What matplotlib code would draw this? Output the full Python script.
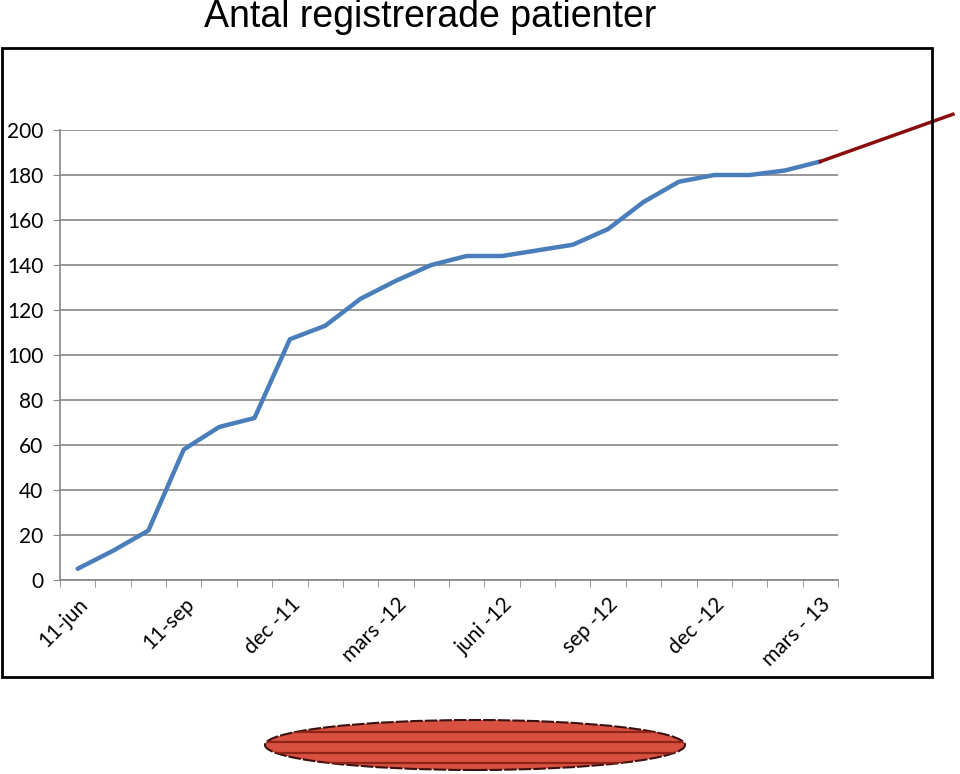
import numpy as np
import matplotlib.pyplot as plt
import matplotlib.patches as mpatches
from matplotlib.lines import Line2D

plt.rcParams['font.family'] = ['Lato', 'DejaVu Sans']

# Monthly registered patients, June 2011 - March 2013
months = ['11-jun', 'jul', 'aug', '11-sep', 'okt', 'nov', 'dec -11', 'jan', 'feb',
          'mars -12', 'apr', 'maj', 'juni -12', 'jul', 'aug', 'sep -12', 'okt', 'nov',
          'dec -12', 'jan', 'feb', 'mars - 13']
patients = [5, 13, 22, 58, 68, 72, 107, 113, 125, 133, 140, 144, 144, 146.5, 149,
            156, 168, 177, 180, 180, 182, 186]
# extrapolated trend beyond the chart (x in category units, y in patients)
trend_x = [21, 24.75]
trend_y = [186, 207]
yticks = [0, 20, 40, 60, 80, 100, 120, 140, 160, 180, 200]

fig = plt.figure(figsize=(9.6, 7.74), dpi=100)
ax = fig.add_axes([60 / 960, 1 - 580 / 774, 778 / 960, 450 / 774])

x = np.arange(len(patients))
ax.plot(x, patients, color='#4a7ebb', lw=3.2, solid_capstyle='round', zorder=3)
ax.plot(trend_x, trend_y, color='#8b0e0e', lw=2.5, clip_on=False, zorder=3)

ax.set_xlim(-0.5, len(patients) - 0.5)
ax.set_ylim(0, 200)
ax.set_yticks(yticks)
ax.tick_params(axis='y', length=5, color='#868686', labelsize=15, pad=7)
ax.grid(axis='y', color='#868686', lw=1.2)
ax.set_axisbelow(True)

# category boundary ticks and labels every third month
ax.set_xticks(np.arange(-0.5, len(patients)), minor=True)
ax.tick_params(axis='x', which='minor', length=5, color='#868686')
lab_idx = list(range(0, len(patients), 3))
ax.set_xticks(lab_idx)
ax.set_xticklabels([months[i] for i in lab_idx], rotation=45, ha='right',
                   rotation_mode='anchor', fontsize=15)
ax.tick_params(axis='x', which='major', length=0, pad=10)

for s in ['top', 'right']:
    ax.spines[s].set_visible(False)
for s in ['left', 'bottom']:
    ax.spines[s].set_color('#868686')
    ax.spines[s].set_linewidth(1.2)

# outer chart border
fig.add_artist(mpatches.Rectangle((2 / 960, 1 - 677 / 774), 930 / 960, 629 / 774,
                                  transform=fig.transFigure, fill=False,
                                  edgecolor='black', lw=2))

fig.text(430 / 960, 1 - 17 / 774, 'Antal registrerade patienter', ha='center',
         va='center', fontsize=27, family=['Liberation Sans', 'DejaVu Sans'])

# red striped ellipse below the chart
cx, cy, w, h = 475 / 960, 1 - 745 / 774, 420 / 960, 50 / 774
ell = mpatches.Ellipse((cx, cy), w, h, transform=fig.transFigure,
                       facecolor='#d8503f', edgecolor='#3a1010', lw=1.5,
                       linestyle=(0, (6, 1)))
fig.add_artist(ell)
for yy in [732, 742, 753, 763]:
    ln = Line2D([cx - w / 2, cx + w / 2], [1 - yy / 774] * 2,
                transform=fig.transFigure, color='#8e2418', lw=1.6)
    ln.set_clip_path(ell)
    fig.add_artist(ln)

fig.savefig('out.png', dpi=100)
